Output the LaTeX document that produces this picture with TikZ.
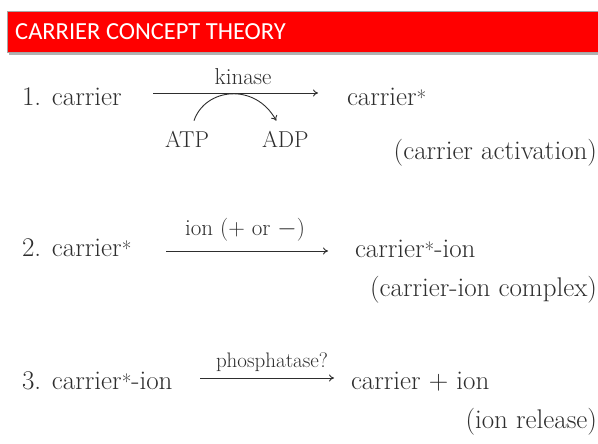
\documentclass[tikz,border=0pt]{standalone}
\usepackage{fontspec}
\newfontfamily\titlefont{Carlito}
\usetikzlibrary{arrows.meta}
\definecolor{ink}{HTML}{2E2E2E}
\definecolor{barred}{HTML}{FF0000}
\newcommand{\st}{{\fontsize{21}{21}\selectfont *}}
\begin{document}
\begin{tikzpicture}[x=1pt,y=-1pt,
  txt/.style={inner sep=0pt,outer sep=0pt,text=ink,font=\fontsize{27}{30}\selectfont},
  lbl/.style={inner sep=0pt,outer sep=0pt,text=ink,font=\fontsize{23}{26}\selectfont},
  rxn/.style={draw=ink,line width=0.9pt,-{To[length=5pt,width=7pt]}}]
\useasboundingbox[fill=white] (0,0) rectangle (598,444);
% header
\fill[gray!60] (9,14) rectangle (598,55);
\node[draw=gray!70,line width=1pt,fill=barred,minimum width=592pt,minimum height=41pt,anchor=north west,inner sep=0pt] (bar) at (7,11) {};
\node[anchor=west,text=white,font=\titlefont\fontsize{24.5}{28}\selectfont,inner sep=0pt] (title) at (15,32) {CARRIER CONCEPT THEORY};
% row 1
\node[txt,anchor=base west] (r1a) at (22,106) {1. carrier};
\coordinate (a1s) at (153,93);
\coordinate (a1e) at (318,93);
\draw[rxn] (a1s) -- (a1e);
\node[lbl,anchor=base] (kin) at (243,85) {kinase};
\node[lbl,anchor=base west] (atp) at (165,147) {ATP};
\node[lbl,anchor=base west] (adp) at (262,147) {ADP};
\draw[rxn] ([xshift=7pt,yshift=10pt]atp.north) .. controls (205,88) and (255,82) .. ([xshift=-9pt,yshift=10pt]adp.north);
\node[txt,anchor=base west] (r1b) at (347,106) {carrier\st};
\node[txt,anchor=base east] (r1c) at (597,160) {(carrier activation)};
% row 2
\node[txt,anchor=base west] (r2a) at (22,256) {2. carrier\st};
\coordinate (a2s) at (166,251);
\coordinate (a2e) at (328,251);
\draw[rxn] (a2s) -- (a2e);
\node[lbl,anchor=base] (ion) at (245,235) {ion (+ or $-$)};
\node[txt,anchor=base west] (r2b) at (355,257) {carrier\st-ion};
\node[txt,anchor=base east] (r2c) at (597,296) {(carrier-ion complex)};
% row 3
\node[txt,anchor=base west] (r3a) at (22,389) {3. carrier\st-ion};
\coordinate (a3s) at (200,378);
\coordinate (a3e) at (334,378);
\draw[rxn] (a3s) -- (a3e);
\node[lbl,anchor=base,font=\fontsize{21}{24}\selectfont] (pho) at (272,367) {phosphatase?};
\node[txt,anchor=base west] (r3b) at (351,389) {carrier + ion};
\node[txt,anchor=base east] (r3c) at (597,428) {(ion release)};
\end{tikzpicture}
\end{document}
